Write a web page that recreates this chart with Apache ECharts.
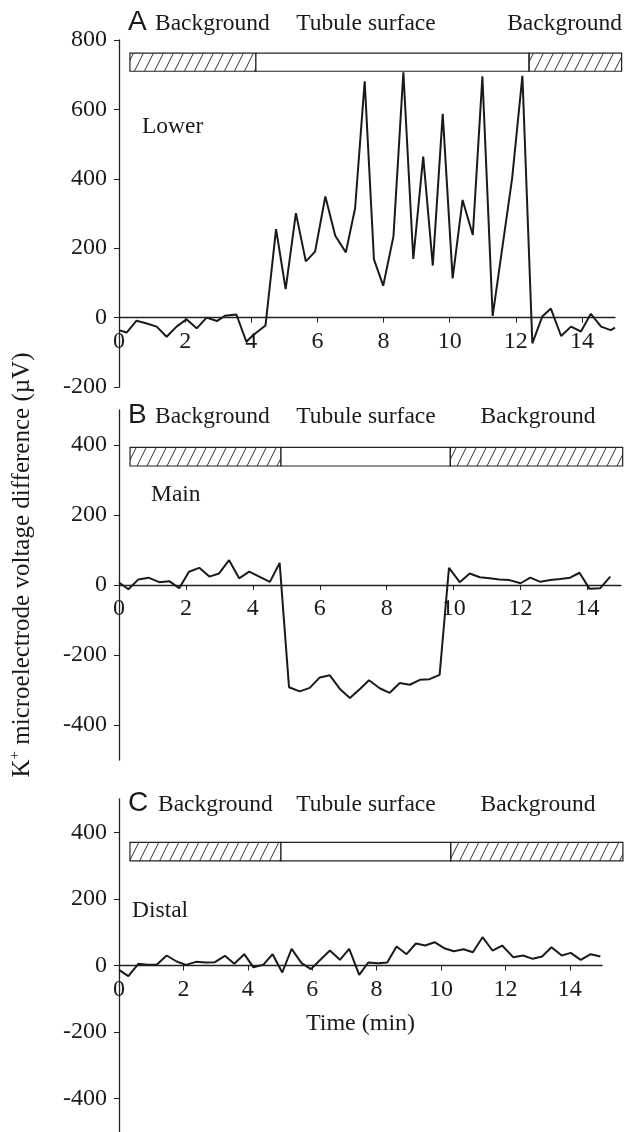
<!DOCTYPE html>
<html>
<head>
<meta charset="utf-8">
<script src="https://cdn.jsdelivr.net/npm/echarts@6/dist/echarts.min.js"></script>
<style>
  html, body { margin: 0; padding: 0; background: #fff; }
  #chart { width: 633px; height: 1132px; }
</style>
</head>
<body>
<div id="chart"></div>
<script>
// panel A - Lower
var timeA = [0, 0.23, 0.53, 0.84, 1.14, 1.44, 1.74, 2.04, 2.35, 2.65, 2.96, 3.2, 3.55, 3.85, 4.13, 4.43, 4.75, 5.04, 5.35, 5.65, 5.93, 6.24, 6.54, 6.86, 7.14, 7.43, 7.71, 7.99, 8.3, 8.6, 8.9, 9.2, 9.49, 9.79, 10.09, 10.39, 10.7, 10.99, 11.3, 11.6, 11.89, 12.2, 12.5, 12.8, 13.06, 13.37, 13.67, 13.97, 14.27, 14.58, 14.87, 15.0];
var lowerVals = [-36, -43, -9, -17, -26, -55, -26, -5, -31, 0, -10, 5, 9, -69, -45, -23, 255, 82, 301, 162, 190, 349, 236, 188, 315, 681, 168, 92, 234, 707, 169, 464, 150, 587, 113, 339, 238, 695, 5, 207, 402, 697, -74, 3, 26, -53, -26, -40, 11, -26, -36, -29];

// panel B - Main
var timeB = [0, 0.28, 0.58, 0.88, 1.2, 1.5, 1.8, 2.09, 2.4, 2.7, 2.99, 3.29, 3.59, 3.89, 4.19, 4.51, 4.8, 5.08, 5.4, 5.7, 6.0, 6.3, 6.6, 6.9, 7.2, 7.47, 7.79, 8.09, 8.39, 8.69, 8.99, 9.28, 9.58, 9.86, 10.18, 10.48, 10.78, 11.08, 11.37, 11.67, 12.0, 12.29, 12.59, 12.89, 13.18, 13.48, 13.76, 14.06, 14.38, 14.68];
var mainVals = [7, -12, 16, 21, 8, 11, -9, 38, 49, 24, 33, 71, 19, 38, 24, 9, 63, -292, -304, -294, -264, -258, -297, -323, -297, -272, -295, -308, -280, -285, -271, -269, -257, 49, 8, 33, 22, 19, 16, 14, 5, 21, 9, 14, 17, 21, 35, -11, -9, 24];

// panel C - Distal
var timeC = [0, 0.29, 0.6, 0.88, 1.17, 1.48, 1.79, 2.08, 2.39, 2.7, 2.98, 3.29, 3.58, 3.89, 4.17, 4.48, 4.77, 5.07, 5.36, 5.67, 5.96, 6.27, 6.55, 6.86, 7.15, 7.46, 7.74, 8.05, 8.33, 8.62, 8.93, 9.22, 9.51, 9.8, 10.1, 10.4, 10.7, 10.99, 11.29, 11.6, 11.9, 12.24, 12.55, 12.85, 13.14, 13.43, 13.75, 14.03, 14.34, 14.65, 14.95];
var distalVals = [-13, -32, 5, 2, 2, 30, 12, 2, 11, 9, 10, 29, 5, 34, -5, 2, 34, -21, 50, 7, -11, 19, 45, 17, 50, -28, 9, 7, 9, 57, 34, 66, 60, 70, 52, 43, 49, 40, 85, 45, 60, 25, 30, 20, 27, 55, 30, 38, 17, 34, 27];

// background / tubule surface / background boundaries (min)
var segA = [0.33, 4.14, 12.4, 15.2];
var segB = [0.33, 4.84, 9.9, 15.05];
var segC = [0.34, 5.03, 10.3, 15.65];
// band extent in y units [bottom, top]
var bandA = [710, 762];
var bandB = [340, 393];
var bandC = [314, 370];

var yTicksBC = [-400, -200, 0, 200, 400];

var serif = 'Liberation Serif';
var ink = '#1a1a1a';

// hatch pattern
var hc = document.createElement('canvas');
hc.width = 10; hc.height = 20;
var hx = hc.getContext('2d');
hx.strokeStyle = '#333';
hx.lineWidth = 1;
for (var k = -1; k <= 1; k++) {
  hx.beginPath();
  hx.moveTo(k * 10, 20);
  hx.lineTo(k * 10 + 10, 0);
  hx.stroke();
}
var hatch = { image: hc, repeat: 'repeat' };

// grid layout: [left, top, width, height, yMin, yMax]
var grids = [
  [119, 40, 496, 347, -200, 800],
  [119, 410, 502, 350, -500, 500],
  [119, 799, 483, 333, -500, 500]
];

function pairs (t, v) {
  return t.map(function (x, i) { return [x, v[i]]; });
}
function boxes (seg, band) {
  return [
    [seg[0], seg[1], band[0], band[1], 1],
    [seg[1], seg[2], band[0], band[1], 0],
    [seg[2], seg[3], band[0], band[1], 1]
  ];
}
function renderBox (params, api) {
  var p0 = api.coord([api.value(0), api.value(3)]);
  var p1 = api.coord([api.value(1), api.value(2)]);
  return {
    type: 'rect',
    shape: { x: p0[0], y: p0[1], width: p1[0] - p0[0], height: p1[1] - p0[1] },
    style: { fill: api.value(4) ? hatch : '#fff', stroke: '#222', lineWidth: 1.2 }
  };
}

// x axis sits on y = 0: shift it up from the grid bottom
function xAxisOf (idx, name) {
  var g = grids[idx];
  var zeroUp = g[3] * (0 - g[4]) / (g[5] - g[4]);
  return {
    type: 'value', gridIndex: idx, min: 0, max: 15, interval: 2,
    position: 'bottom', offset: -zeroUp,
    axisLine: { onZero: false, lineStyle: { color: '#222', width: 1.3 } },
    axisTick: { length: 5, lineStyle: { color: '#222' } },
    axisLabel: { color: ink, fontFamily: serif, fontSize: 24, margin: 12, showMaxLabel: false },
    splitLine: { show: false },
    name: name || '', nameLocation: 'middle', nameGap: 46,
    nameTextStyle: { color: ink, fontFamily: serif, fontSize: 24 }
  };
}
function yAxisOf (idx, interval, custom) {
  var g = grids[idx];
  var ax = {
    type: 'value', gridIndex: idx, min: g[4], max: g[5],
    axisLine: { show: true, onZero: false, lineStyle: { color: '#222', width: 1.3 } },
    axisTick: { show: true, length: 5, lineStyle: { color: '#222' } },
    axisLabel: { color: ink, fontFamily: serif, fontSize: 24, margin: 12 },
    splitLine: { show: false }
  };
  if (interval) ax.interval = interval;
  if (custom) {
    ax.axisTick.customValues = custom;
    ax.axisLabel.customValues = custom;
  }
  return ax;
}
function txt (x, y, s, opt) {
  opt = opt || {};
  return {
    type: 'text', x: x, y: y, rotation: opt.rotation || 0,
    style: {
      text: s, fill: ink,
      font: opt.font || ('23.5px ' + serif),
      align: opt.align || 'left', verticalAlign: 'middle',
      textAlign: opt.align || 'left', textVerticalAlign: 'middle',
      rich: opt.rich
    }
  };
}

var chart = echarts.init(document.getElementById('chart'));
chart.setOption({
  animation: false,
  backgroundColor: '#fff',
  grid: grids.map(function (g) {
    return { left: g[0], top: g[1], width: g[2], height: g[3], outerBoundsMode: 'none', containLabel: false };
  }),
  xAxis: [xAxisOf(0), xAxisOf(1), xAxisOf(2, 'Time (min)')],
  yAxis: [yAxisOf(0, 200), yAxisOf(1, null, yTicksBC), yAxisOf(2, null, yTicksBC)],
  graphic: [
    txt(128, 22, 'A', { font: '28px Liberation Sans' }),
    txt(155, 24, 'Background'),
    txt(366, 24, 'Tubule surface', { align: 'center' }),
    txt(622, 24, 'Background', { align: 'right' }),
    txt(142, 127, 'Lower'),

    txt(128, 415, 'B', { font: '28px Liberation Sans' }),
    txt(155, 417, 'Background'),
    txt(366, 417, 'Tubule surface', { align: 'center' }),
    txt(538, 417, 'Background', { align: 'center' }),
    txt(151, 495, 'Main'),

    txt(128, 803, 'C', { font: '28px Liberation Sans' }),
    txt(158, 805, 'Background'),
    txt(366, 805, 'Tubule surface', { align: 'center' }),
    txt(538, 805, 'Background', { align: 'center' }),
    txt(132, 911, 'Distal'),

    txt(22, 565, '{n|K}{s|+}{n| microelectrode voltage difference (\u00b5V)}', {
      align: 'center', rotation: Math.PI / 2,
      rich: {
        n: { fontFamily: serif, fontSize: 25, color: ink },
        s: { fontFamily: serif, fontSize: 15, color: ink, padding: [0, 0, 13, 0] }
      }
    })
  ],
  series: [
    { type: 'line', xAxisIndex: 0, yAxisIndex: 0, data: pairs(timeA, lowerVals), showSymbol: false, lineStyle: { color: ink, width: 2 } },
    { type: 'line', xAxisIndex: 1, yAxisIndex: 1, data: pairs(timeB, mainVals), showSymbol: false, lineStyle: { color: ink, width: 2 } },
    { type: 'line', xAxisIndex: 2, yAxisIndex: 2, data: pairs(timeC, distalVals), showSymbol: false, lineStyle: { color: ink, width: 2 } },
    { type: 'custom', xAxisIndex: 0, yAxisIndex: 0, clip: false, renderItem: renderBox, data: boxes(segA, bandA), encode: { x: [0, 1], y: [2, 3] }, z: 1 },
    { type: 'custom', xAxisIndex: 1, yAxisIndex: 1, clip: false, renderItem: renderBox, data: boxes(segB, bandB), encode: { x: [0, 1], y: [2, 3] }, z: 1 },
    { type: 'custom', xAxisIndex: 2, yAxisIndex: 2, clip: false, renderItem: renderBox, data: boxes(segC, bandC), encode: { x: [0, 1], y: [2, 3] }, z: 1 }
  ]
});
</script>
</body>
</html>
